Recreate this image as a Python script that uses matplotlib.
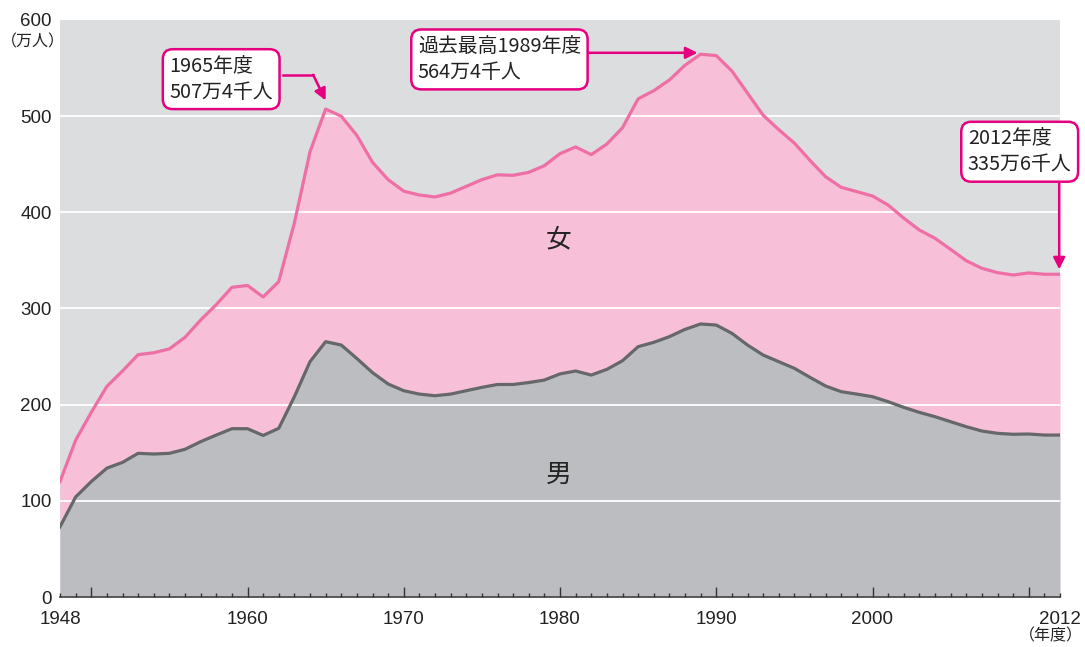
import matplotlib
matplotlib.use("Agg")
import matplotlib.pyplot as plt
import numpy as np

plt.rcParams['font.family'] = ['Liberation Sans Narrow', 'Liberation Sans', 'Noto Sans CJK JP', 'DejaVu Sans']
JP = ['Noto Sans CJK JP', 'DejaVu Sans']

# 年度
years = np.arange(1948, 2013)
# 合計（万人）= 男 + 女
total = [120, 163, 192, 219, 235, 252, 254, 258, 270, 288, 304, 322, 324, 312, 328,
         389, 463, 507.4, 500, 480, 452, 434, 422, 418, 416, 420, 427, 434, 439, 438.5,
         441.6, 448.5, 461, 468, 460, 471, 488, 518, 526.5, 537.6, 553, 564.4, 563, 547,
         524, 501, 486, 472, 454, 437, 426, 421.5, 417, 407.6, 394, 381.6, 373, 361.5,
         349.7, 341.8, 337.3, 334.8, 337, 335.6, 335.6]
# 男（万人）
male = [73, 104, 120, 134, 140, 149.4, 148.7, 149.4, 153.6, 161.5, 168.4, 175, 175, 168,
        175.4, 208.3, 244.7, 265.5, 262, 248, 233.3, 221.5, 214.5, 211, 209.3, 211, 214.5,
        218, 221, 221, 223, 225.6, 232, 235, 230.8, 236.7, 245.7, 260.3, 264.8, 270.7,
        278.3, 283.9, 282.8, 274.2, 262, 251.6, 244.7, 237.8, 228.4, 219.4, 213.5, 211,
        208.3, 203.1, 197.2, 192, 187.5, 182.3, 177.1, 172.6, 170.2, 169.2, 169.5, 168.4, 168.4]

y_ticks = [0, 100, 200, 300, 400, 500, 600]
x_labels = {1948: '1948', 1960: '1960', 1970: '1970', 1980: '1980',
            1990: '1990', 2000: '2000', 2012: '2012'}

BG = '#dcdddf'
PINK_FILL = '#f7c0d8'
PINK_LINE = '#ee6fa6'
GRAY_FILL = '#bcbdc1'
GRAY_LINE = '#666769'
MAGENTA = '#e4007f'

fig = plt.figure(figsize=(10.85, 6.47), dpi=100)
ax = fig.add_axes([60 / 1085, 1 - 597 / 647, 1000 / 1085, 577 / 647])
ax.set_facecolor(BG)
ax.set_xlim(1948, 2012)
ax.set_ylim(0, 600)

ax.fill_between(years, male, total, color=PINK_FILL, lw=0, zorder=1)
ax.fill_between(years, 0, male, color=GRAY_FILL, lw=0, zorder=1)
for v in y_ticks[1:-1]:
    ax.axhline(v, color='white', lw=1.3, zorder=2)
ax.plot(years, total, color=PINK_LINE, lw=2.3, zorder=3, solid_joinstyle='round')
ax.plot(years, male, color=GRAY_LINE, lw=2.3, zorder=3, solid_joinstyle='round')

for s in ['top', 'right', 'left']:
    ax.spines[s].set_visible(False)
ax.spines['bottom'].set_color('#444444')
ax.spines['bottom'].set_linewidth(1.2)
ax.spines['bottom'].set_zorder(4)

ax.set_yticks(y_ticks)
ax.set_yticklabels([str(v) for v in y_ticks], fontsize=13.5, color='#222222')
ax.tick_params(axis='y', length=0, pad=6)

major = [1948] + list(range(1950, 2011, 10)) + [2012]
ax.set_xticks(major)
ax.set_xticklabels([x_labels.get(y, '') for y in major], fontsize=13.5, color='#222222')
ax.set_xticks(years, minor=True)
ax.tick_params(axis='x', which='major', direction='in', length=7.5, width=1, color='#333333', pad=10)
ax.tick_params(axis='x', which='minor', direction='in', length=3.2, width=1, color='#333333')
ax.xaxis.set_zorder(4)
ticks = ax.xaxis.get_major_ticks()
ticks[0].tick1line.set_markersize(3.2)
ticks[-1].tick1line.set_markersize(3.2)

fig.text(33 / 1085, 1 - 42 / 647, '（万人）', family=JP, fontsize=11.5, ha='center', va='center', color='#222222')
fig.text(1051 / 1085, 1 - 636 / 647, '（年度）', family=JP, fontsize=11.5, ha='center', va='center', color='#222222')

ax.text(1979.9, 372, '女', family=JP, fontsize=18.5, ha='center', va='center', color='#222222', zorder=4)
ax.text(1979.9, 127, '男', family=JP, fontsize=18.5, ha='center', va='center', color='#222222', zorder=4)

box = dict(boxstyle='round,pad=0.33,rounding_size=0.5', fc='white', ec=MAGENTA, lw=1.8)
akw = dict(arrowstyle='-|>,head_length=0.7,head_width=0.35', color=MAGENTA, lw=1.8, shrinkA=0, shrinkB=0)
tkw = dict(family=['Liberation Sans Narrow', 'Noto Sans CJK JP', 'DejaVu Sans'], fontsize=14.3,
           color='#222222', va='center', linespacing=1.3, zorder=6, clip_on=False)

i65 = list(years).index(1965)
i89 = list(years).index(1989)

# 1965
ax.plot([1962.3, 1964.2], [543, 543], color=MAGENTA, lw=1.8, zorder=5, clip_on=False)
ax.annotate('', xy=(1965, total[i65] + 9), xytext=(1964.2, 543), arrowprops=akw, zorder=5)
ax.text(1955.0, 538.5, '1965年度\n507万4千人', bbox=box, ha='left', **tkw)

# 1989
ax.annotate('', xy=(1988.8, total[i89] + 1.5), xytext=(1981.0, total[i89] + 1.5), arrowprops=akw, zorder=5)
ax.text(1970.9, 559, '過去最高1989年度\n564万4千人', bbox=box, ha='left', **tkw)

# 2012
ax.annotate('', xy=(2011.95, total[-1] + 5), xytext=(2011.95, 434), arrowprops=akw, zorder=5)
ax.text(2006.1, 463, '2012年度\n335万6千人', bbox=box, ha='left', **tkw)

fig.savefig('out.png', dpi=100)
